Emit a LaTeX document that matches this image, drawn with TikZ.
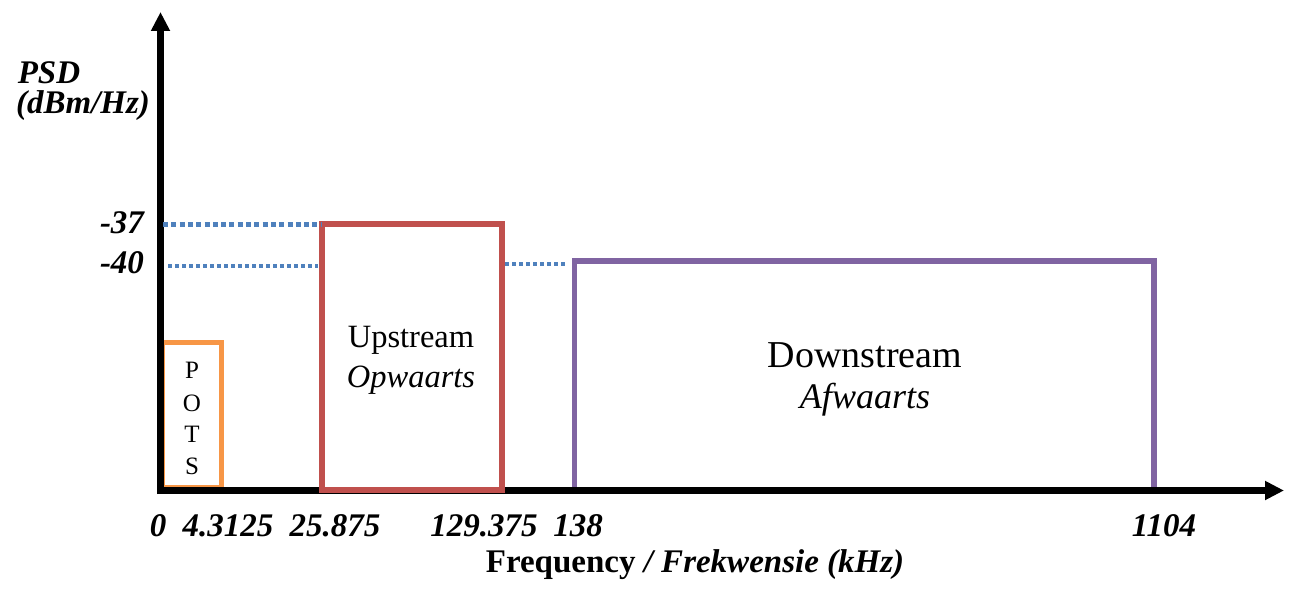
\documentclass[tikz,border=0pt]{standalone}
\usepackage{fontspec}
\setmainfont{Liberation Serif}
\usetikzlibrary{arrows.meta}
\definecolor{potsorange}{HTML}{F79646}
\definecolor{upred}{HTML}{C0504D}
\definecolor{downpurple}{HTML}{8064A2}
\definecolor{dotblue}{HTML}{4F81BD}
\tikzset{
  axisline/.style={line width=7pt, -{Triangle[length=19pt,width=18pt]}},
  bandbox/.style={line width=5.5pt, inner sep=0pt, outer sep=0pt},
  dotthick/.style={dotblue, line width=5pt, dash pattern=on 5pt off 3.3pt},
  dotthin/.style={dotblue, line width=4pt, dash pattern=on 4pt off 3pt},
  boldit/.style={font=\fontsize{33}{36}\selectfont\bfseries\itshape, inner sep=0pt},
  boxtext/.style={font=\fontsize{32.5}{36}\selectfont, inner sep=0pt},
  downtext/.style={font=\fontsize{38}{42}\selectfont, inner sep=0pt},
  potstext/.style={font=\fontsize{25}{28}\selectfont, inner sep=0pt}
}
\begin{document}
\begin{tikzpicture}[x=1pt,y=-1pt]
\useasboundingbox (0,0) rectangle (1308,594);
% downstream box (bottom hidden by axis)
\node[bandbox, draw=downpurple, minimum width=579.5pt, minimum height=229pt] (down) at (864.25,375.5) {};
% POTS box
\node[bandbox, draw=potsorange, line width=5pt, minimum width=59pt, minimum height=145pt] (pots) at (192,414.5) {};
% axes
\coordinate (origin) at (160.5,490.5);
\coordinate (ytop) at (160.5,12);
\coordinate (xend) at (1284,490.5);
\draw[axisline] (160.5,494) -- (ytop);
\draw[axisline] (157,490.5) -- (xend);
% upstream box (over axis)
\node[bandbox, draw=upred, line width=6pt, minimum width=180.5pt, minimum height=266pt] (up) at (411.75,357) {};
% dotted level lines
\coordinate (y37) at (163,224.5);
\coordinate (y40) at (168,265.5);
\draw[dotthick] (y37) -- (y37 -| up.west);
\draw[dotthin] (y40) -- (318,265.5);
\draw[dotthin] (505,264) -- (565,264);
% axis labels
\node[boldit] (psd) at (49,73) {PSD};
\node[boldit] (unit) at (83,106) {(dBm/Hz)};
\node[boldit] (l37) at (122,223) {-37};
\node[boldit] (l40) at (122,263) {-40};
\node[boldit] (t0) at (158,526) {0};
\node[boldit] (t1) at (228,526) {4.3125};
\node[boldit] (t2) at (335,526) {25.875};
\node[boldit] (t3) at (484,526) {129.375};
\node[boldit] (t4) at (578,526) {138};
\node[boldit] (t5) at (1164,526) {1104};
\node[boldit, font=\fontsize{33}{36}\selectfont\bfseries] (xlab) at (695,565) {Frequency \textit{/ Frekwensie (kHz)}};
% box texts
\node[potstext] (p1) at (192,370) {P};
\node[potstext] (p2) at (192,403) {O};
\node[potstext] (p3) at (192,434) {T};
\node[potstext] (p4) at (192,466) {S};
\node[boxtext] (upt) at (411,340) {Upstream};
\node[boxtext, font=\fontsize{32.5}{36}\selectfont\itshape] (upi) at (411,380) {Opwaarts};
\node[downtext] (dnt) at (865,355) {Downstream};
\node[downtext, font=\fontsize{36}{40}\selectfont\itshape] (dni) at (865,400) {Afwaarts};
\end{tikzpicture}
\end{document}
